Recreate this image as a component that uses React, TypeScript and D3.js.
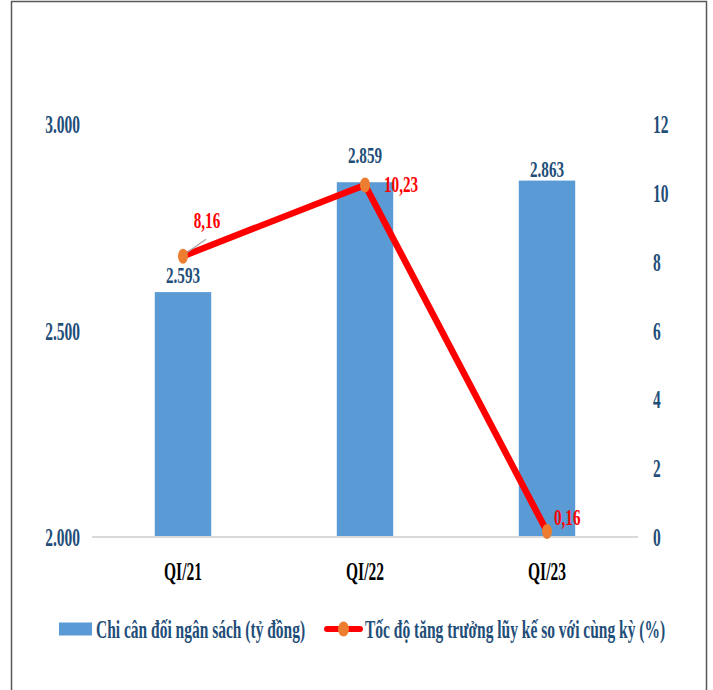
import React, { useEffect, useRef } from 'react';
import * as d3 from 'd3';

const categories = ['QI/21', 'QI/22', 'QI/23'];
const spending = [2593, 2859, 2863];
const growth = [8.16, 10.23, 0.16];
const spendingLabels = ['2.593', '2.859', '2.863'];
const growthLabels = ['8,16', '10,23', '0,16'];
const leftTicks = [2000, 2500, 3000];
const rightTicks = [0, 2, 4, 6, 8, 10, 12];
const legendBar = 'Chi cân đối ngân sách (tỷ đồng)';
const legendLine = 'Tốc độ tăng trưởng lũy kế so với cùng kỳ (%)';

const FONT = '"Liberation Serif", "Times New Roman", serif';

const App: React.FC = () => {
  const svgRef = useRef<SVGSVGElement>(null);

  useEffect(() => {
    if (!svgRef.current) return;
    const svg = d3.select(svgRef.current);
    svg.selectAll('*').remove();

    const W = 713;
    const H = 690;
    const plot = { left: 92, right: 638, top: 124, bottom: 537 };

    // frame
    svg.append('rect')
      .attr('x', 11.5).attr('y', 1.5)
      .attr('width', 695).attr('height', H + 10)
      .attr('fill', '#fff')
      .attr('stroke', '#595959')
      .attr('stroke-width', 1.5);

    const x = d3.scaleBand<string>()
      .domain(categories)
      .range([plot.left, plot.right])
      .paddingInner(0.69)
      .paddingOuter(0.345);

    const yLeft = d3.scaleLinear().domain([2000, 3000]).range([plot.bottom, plot.top]);
    const yRight = d3.scaleLinear().domain([0, 12]).range([plot.bottom, plot.top]);

    // squeezed text helper (condensed Times look of the original)
    const addText = (
      px: number, py: number, txt: string, size: number, color: string,
      anchor: 'start' | 'middle' | 'end' = 'middle', squeeze = 0.62
    ) => {
      svg.append('g')
        .attr('transform', `translate(${px},${py}) scale(${squeeze},1)`)
        .append('text')
        .attr('text-anchor', anchor)
        .style('font-family', FONT)
        .style('font-weight', 'bold')
        .style('font-size', `${size}px`)
        .style('fill', color)
        .text(txt);
    };

    // bars
    svg.selectAll('.bar')
      .data(spending)
      .enter()
      .append('rect')
      .attr('class', 'bar')
      .attr('x', (_, i) => x(categories[i]) as number)
      .attr('y', d => yLeft(d))
      .attr('width', x.bandwidth())
      .attr('height', d => plot.bottom - yLeft(d))
      .attr('fill', '#5B9BD5');

    // baseline
    svg.append('line')
      .attr('x1', plot.left).attr('x2', plot.right)
      .attr('y1', plot.bottom).attr('y2', plot.bottom)
      .attr('stroke', '#D9D9D9')
      .attr('stroke-width', 2);

    // axis tick labels
    leftTicks.forEach(t => addText(80, yLeft(t) + 9, d3.format(',')(t).replace(/,/g, '.'), 25, '#1F4E79', 'end'));
    rightTicks.forEach(t => addText(653, yRight(t) + 9, String(t), 25, '#1F4E79', 'start'));

    // category labels
    categories.forEach(c => addText((x(c) as number) + x.bandwidth() / 2, 580, c, 25, '#000', 'middle'));

    // growth line
    const cx = (i: number) => (x(categories[i]) as number) + x.bandwidth() / 2;
    const line = d3.line<number>()
      .x((_, i) => cx(i))
      .y(d => yRight(d));

    svg.append('path')
      .datum(growth)
      .attr('d', line)
      .attr('fill', 'none')
      .attr('stroke', '#FF0000')
      .attr('stroke-width', 6.5)
      .attr('stroke-linejoin', 'round');

    // leader line for first label
    svg.append('line')
      .attr('x1', cx(0) + 3).attr('y1', yRight(growth[0]) - 3)
      .attr('x2', cx(0) + 23).attr('y2', yRight(growth[0]) - 17)
      .attr('stroke', '#A6A6A6')
      .attr('stroke-width', 1.2);

    svg.selectAll('.marker')
      .data(growth)
      .enter()
      .append('ellipse')
      .attr('class', 'marker')
      .attr('cx', (_, i) => cx(i))
      .attr('cy', d => yRight(d))
      .attr('rx', 5)
      .attr('ry', 7.5)
      .attr('fill', '#ED7D31');

    // bar data labels
    const barLabelOffsets = [-9, -19, -4];
    spending.forEach((v, i) => addText(cx(i), yLeft(v) + barLabelOffsets[i], spendingLabels[i], 23, '#1F4E79', 'middle', 0.66));

    // growth data labels
    addText(cx(0) + 24, yRight(growth[0]) - 28, growthLabels[0], 23, '#FF0000', 'middle', 0.66);
    addText(cx(1) + 19, yRight(growth[1]) + 7, growthLabels[1], 23, '#FF0000', 'start', 0.66);
    addText(cx(2) + 7, yRight(growth[2]) - 6, growthLabels[2], 23, '#FF0000', 'start', 0.66);

    // legend
    const ly = 629;
    svg.append('rect')
      .attr('x', 59).attr('y', ly - 6.5)
      .attr('width', 33).attr('height', 13)
      .attr('fill', '#5B9BD5');
    addText(96, ly + 9, legendBar, 25, '#1F4E79', 'start');

    svg.append('line')
      .attr('x1', 327).attr('x2', 360)
      .attr('y1', ly).attr('y2', ly)
      .attr('stroke', '#FF0000')
      .attr('stroke-width', 6)
      .attr('stroke-linecap', 'round');
    svg.append('ellipse')
      .attr('cx', 343.5).attr('cy', ly)
      .attr('rx', 5.5).attr('ry', 7.5)
      .attr('fill', '#ED7D31');
    addText(365, ly + 9, legendLine, 25, '#1F4E79', 'start');

    svg.attr('width', W).attr('height', H);
  }, []);

  return (
    <svg
      ref={svgRef}
      width={713}
      height={690}
      style={{ position: 'absolute', left: 0, top: 0, display: 'block', background: '#fff' }}
    />
  );
};

export default App;
